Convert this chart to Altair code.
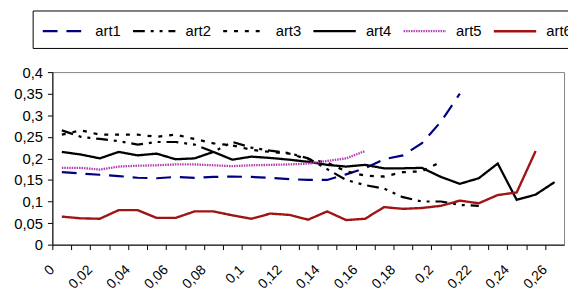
import altair as alt
import pandas as pd

cats = [0, 0.01, 0.02, 0.03, 0.04, 0.05, 0.06, 0.07, 0.08, 0.09, 0.1, 0.11, 0.12,
        0.13, 0.14, 0.15, 0.16, 0.17, 0.18, 0.19, 0.2, 0.21, 0.22, 0.23, 0.24, 0.25, 0.26]

art1 = [0.168, 0.165, 0.162, 0.159, 0.155, 0.154, 0.157, 0.155, 0.157, 0.158, 0.157,
        0.155, 0.152, 0.150, 0.150, 0.163, 0.177, 0.198, 0.207, 0.235, 0.285, 0.350]
art2 = [0.265, 0.250, 0.245, 0.240, 0.232, 0.238, 0.238, 0.232, 0.215, 0.238, 0.225,
        0.218, 0.212, 0.200, 0.175, 0.150, 0.138, 0.130, 0.110, 0.100, 0.100, 0.092, 0.090]
art3 = [0.255, 0.265, 0.255, 0.255, 0.255, 0.250, 0.255, 0.245, 0.235, 0.230, 0.220,
        0.215, 0.211, 0.198, 0.190, 0.170, 0.160, 0.158, 0.168, 0.170, 0.192]
art4 = [0.215, 0.209, 0.200, 0.215, 0.207, 0.211, 0.198, 0.200, 0.215, 0.197, 0.204,
        0.201, 0.197, 0.192, 0.185, 0.181, 0.185, 0.177, 0.177, 0.178, 0.157, 0.141,
        0.154, 0.188, 0.104, 0.116, 0.145]
art5 = [0.178, 0.178, 0.174, 0.181, 0.183, 0.184, 0.186, 0.186, 0.184, 0.182, 0.184,
        0.185, 0.186, 0.188, 0.194, 0.200, 0.217]
art6 = [0.065, 0.061, 0.060, 0.080, 0.080, 0.062, 0.062, 0.077, 0.077, 0.068, 0.060,
        0.072, 0.069, 0.058, 0.077, 0.057, 0.060, 0.087, 0.083, 0.085, 0.090, 0.102,
        0.096, 0.115, 0.121, 0.217]

names = ["art1", "art2", "art3", "art4", "art5", "art6"]
series = [art1, art2, art3, art4, art5, art6]
colors = ["#000080", "#000000", "#000000", "#000000", "#B43CB4", "#A01414"]
dashes = [[15, 9], [12, 6, 3, 6, 3, 6], [4, 7], [1, 0], [1.5, 1], [1, 0]]
widths = [2.2, 2.4, 2.4, 1.6, 2.0, 2.0]

rows = []
for name, vals in zip(names, series):
    for c, v in zip(cats, vals):
        rows.append({"x": c, "y": v, "series": name})
df = pd.DataFrame(rows)

y_ticks = [0, 0.05, 0.1, 0.15, 0.2, 0.25, 0.3, 0.35, 0.4]


def make_legend():
    return alt.Legend(title=None, orient="none", legendX=-20, legendY=-62.5,
                      direction="horizontal", symbolType="M-1,0L3,0",
                      symbolSize=462, symbolStrokeWidth=2,
                      labelOffset=30.5, columnPadding=6.5, padding=9,
                      strokeColor="#000000", labelFontSize=15,
                      labelFont="Liberation Sans", labelColor="#000000")


chart = alt.Chart(df).mark_line().encode(
    x=alt.X("x:Q",
            scale=alt.Scale(domain=[-0.005, 0.265], nice=False, zero=False),
            axis=alt.Axis(values=cats, title=None, tickOffset=-9.61,
                          labelExpr="round(datum.value*100) % 2 == 0 ? replace(format(datum.value, '~g'), '.', ',') : ''",
                          labelAngle=-45, labelAlign="right", labelBaseline="middle",
                          labelPadding=18, labelOffset=-0.5, labelFlush=False,
                          labelFontSize=14,
                          labelOverlap=False, labelBound=False)),
    y=alt.Y("y:Q",
            scale=alt.Scale(domain=[0, 0.4], nice=False),
            axis=alt.Axis(values=y_ticks, title=None, labelPadding=5,
                          labelExpr="replace(format(datum.value, '~g'), '.', ',')")),
    color=alt.Color("series:N", scale=alt.Scale(domain=names, range=colors),
                    legend=make_legend()),
    strokeDash=alt.StrokeDash("series:N", scale=alt.Scale(domain=names, range=dashes),
                              legend=make_legend()),
    strokeWidth=alt.StrokeWidth("series:N", scale=alt.Scale(domain=names, range=widths), legend=None),
    order=alt.Order("x:Q"),
).properties(
    width=519, height=175,
    autosize=alt.AutoSizeParams(type="none"),
    padding={"left": 45, "top": 63, "right": 4, "bottom": 46},
).configure_view(
    stroke="#808080", strokeWidth=1
).configure_axis(
    grid=False, domainColor="#000000", tickColor="#000000", labelColor="#000000",
    labelFont="Liberation Sans", labelFontSize=15, tickSize=5, domainWidth=1, tickWidth=1
)

chart.save("out.html", embed_options={"renderer": "svg", "actions": False})
